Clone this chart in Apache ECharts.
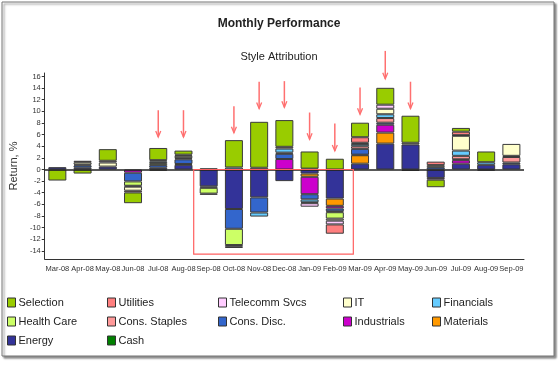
<!DOCTYPE html>
<html><head><meta charset="utf-8">
<script src="https://cdn.jsdelivr.net/npm/echarts@6/dist/echarts.min.js"></script>
<style>html,body{margin:0;padding:0;background:#fff}#c{width:558px;height:376px}</style>
</head><body><div id="c"></div>
<script>
var months = ['Mar-08','Apr-08','May-08','Jun-08','Jul-08','Aug-08','Sep-08','Oct-08','Nov-08','Dec-08','Jan-09','Feb-09','Mar-09','Apr-09','May-09','Jun-09','Jul-09','Aug-09','Sep-09'];
var yTicks = [-14,-12,-10,-8,-6,-4,-2,0,2,4,6,8,10,12,14,16];

var energy      = [0.4, 0.3, 0.5, null, 0.3, 0.8, -2.9, -6.8, -4.8, -2.0, -0.7, -5.0, 1.0, 4.45, 4.3, -1.45, 1.0, 0.8, 0.9];
var materials   = [null, null, null, null, -0.2, null, null, null, null, null, -0.55, -1.25, 1.45, 1.9, null, null, null, null, null];
var industrials = [null, null, null, -0.55, null, 0.15, null, null, null, 1.8, -3.0, -0.45, 0.1, 1.35, null, -0.3, 0.6, null, null];
var consDisc    = [null, 0.4, null, -1.5, 0.45, 0.8, -0.25, -3.4, -2.6, 0.9, -0.9, -0.5, 1.0, 0.35, -0.25, 0.4, 0.15, -0.2, 0.3];
var consStaples = [null, null, null, null, null, null, null, null, null, 0.2, 0.15, -0.15, 0.45, 0.8, null, null, 0.6, null, 0.95];
var healthCare  = [null, null, null, -0.75, 0.35, null, -1.0, -2.8, null, null, null, -1.1, null, null, null, null, null, null, null];
var financials  = [null, 0.15, null, -0.15, 0.3, 0.2, null, 0.35, -0.7, 0.7, -0.5, null, 0.4, 0.65, null, null, 0.9, 0.45, 0.2];
var it          = [null, 0.4, 0.7, -0.7, 0.2, 0.4, 0.2, null, null, null, -0.15, -0.35, 0.2, 0.95, 0.3, 0.35, 2.55, null, 2.05];
var telecomm    = [null, null, 0.3, null, null, 0.2, null, -0.3, 0.3, 0.3, -0.6, -0.65, null, 0.7, null, null, 0.1, null, null];
var utilities   = [null, 0.25, null, -0.3, null, null, -0.2, -0.2, null, null, null, -1.6, 0.95, null, null, 0.6, 0.6, null, null];
var selection   = [-1.9, -0.7, 2.0, -1.85, 2.1, 0.7, null, 4.7, 7.9, 4.6, 2.95, 1.85, 2.5, 2.9, 4.65, -1.3, 0.65, 1.85, null];
var cash        = [null, null, null, null, null, null, null, null, null, null, null, null, null, null, null, null, null, null, null];

var arrowMonths = ['Jul-08','Aug-08','Oct-08','Nov-08','Dec-08','Jan-09','Feb-09','Mar-09','Apr-09','May-09'];
var arrowFrom   = [10.2, 10.2, 10.9, 15.1, 15.2, 9.8, 7.9, 14.1, 20.4, 15.1];
var arrowTo     = [5.6, 5.6, 6.3, 10.5, 10.7, 5.2, 3.2, 9.5, 15.6, 10.5];
var boxFrom = 'Sep-08', boxTo = 'Feb-09', boxBottom = -14.55;

var FONT = "'Liberation Sans Narrow','Arial Narrow','Liberation Sans',Arial,sans-serif";
var seriesDefs = [
  ['Energy', energy, '#333399'],
  ['Materials', materials, '#FF9900'],
  ['Industrials', industrials, '#CC00CC'],
  ['Cons. Disc.', consDisc, '#3366CC'],
  ['Cons. Staples', consStaples, '#FF9999'],
  ['Health Care', healthCare, '#CCFF66'],
  ['Financials', financials, '#66CCFF'],
  ['IT', it, '#FFFFCC'],
  ['Telecomm Svcs', telecomm, '#FFCCFF'],
  ['Utilities', utilities, '#FF7F7F'],
  ['Selection', selection, '#99CC00'],
  ['Cash', cash, '#008000']
];
var series = seriesDefs.map(function (d, i) {
  var s = {
    name: d[0], type: 'bar', stack: 'all', data: d[1], barWidth: 18,
    itemStyle: { color: d[2], borderColor: '#3a3a3a', borderWidth: 1 },
    emphasis: { disabled: true }
  };
  if (i === 0) {
    s.markLine = { silent: true, symbol: ['none', 'none'], label: { show: false },
      lineStyle: { color: '#222', width: 1.5, type: 'solid' }, data: [{ yAxis: 0 }] };
  }
  return s;
});

function legendCol(names, left) {
  return {
    data: names, left: left, top: 296, orient: 'vertical', padding: 0,
    itemWidth: 8, itemHeight: 9, itemGap: 6, icon: 'rect', selectedMode: false,
    itemStyle: { borderColor: '#333', borderWidth: 1 },
    textStyle: { fontFamily: FONT, fontSize: 11, color: '#222', lineHeight: 13, padding: [0, 0, 0, -2] }
  };
}

var chart = echarts.init(document.getElementById('c'), null, { renderer: 'canvas' });
chart.setOption({
  animation: false,
  title: [
    { text: 'Monthly Performance', left: 'center', top: 13,
      textStyle: { fontFamily: FONT, fontSize: 12, fontWeight: 'bold', color: '#222' } },
    { text: 'Style Attribution', left: 'center', top: 46,
      textStyle: { fontFamily: FONT, fontSize: 11, fontWeight: 'normal', color: '#222' } }
  ],
  legend: [
    legendCol(['Selection', 'Health Care', 'Energy'], 7),
    legendCol(['Utilities', 'Cons. Staples', 'Cash'], 107),
    legendCol(['Telecomm Svcs', 'Cons. Disc.'], 218),
    legendCol(['IT', 'Industrials'], 343),
    legendCol(['Financials', 'Materials'], 432)
  ],
  grid: { left: 30, right: 34, top: 73, bottom: 117 },
  xAxis: {
    type: 'category', data: months,
    axisLine: { onZero: false, lineStyle: { color: '#333', width: 1 } },
    axisTick: { alignWithLabel: true, length: 4, lineStyle: { color: '#333' } },
    axisLabel: { interval: 0, fontFamily: FONT, fontSize: 7.5, color: '#333', margin: 6 }
  },
  yAxis: {
    type: 'value', min: -15.4, max: 16.6,
    name: 'Return, %', nameLocation: 'middle', nameGap: 19,
    nameTextStyle: { fontFamily: "'Liberation Sans',Arial,sans-serif", fontSize: 11, color: '#333' },
    axisLine: { show: true, lineStyle: { color: '#333' } },
    axisTick: { show: true, length: 3, customValues: yTicks, lineStyle: { color: '#333' } },
    axisLabel: { customValues: yTicks, fontFamily: FONT, fontSize: 7.5, color: '#333', margin: 4 },
    splitLine: { show: false }
  },
  series: series
});

var g = [];
g.push({ type: 'rect', z: -10, shape: { x: 2, y: 2, width: 552, height: 354 },
  style: { fill: '#fff', stroke: '#777', lineWidth: 1, shadowBlur: 2, shadowOffsetX: 2, shadowOffsetY: 2, shadowColor: 'rgba(0,0,0,0.45)' } });
arrowMonths.forEach(function (m, i) {
  var idx = months.indexOf(m);
  var p0 = chart.convertToPixel({ seriesIndex: 0 }, [idx, arrowFrom[i]]);
  var p1 = chart.convertToPixel({ seriesIndex: 0 }, [idx, arrowTo[i]]);
  g.push({ type: 'line', z: 100, shape: { x1: p0[0], y1: p0[1], x2: p1[0], y2: p1[1] },
    style: { stroke: '#FF7070', lineWidth: 1.5 } });
  g.push({ type: 'polyline', z: 100, shape: { points: [[p1[0] - 2.5, p1[1] - 6], [p1[0], p1[1]], [p1[0] + 2.5, p1[1] - 6]] },
    style: { stroke: '#FF7070', lineWidth: 1.3, fill: null } });
});
var b0 = chart.convertToPixel({ seriesIndex: 0 }, [months.indexOf(boxFrom), 0]);
var b1 = chart.convertToPixel({ seriesIndex: 0 }, [months.indexOf(boxTo), boxBottom]);
g.push({ type: 'rect', z: 100, shape: { x: b0[0] - 15, y: b0[1], width: (b1[0] + 18.5) - (b0[0] - 15), height: b1[1] - b0[1] },
  style: { fill: null, stroke: '#FF6060', lineWidth: 1.2 } });
chart.setOption({ graphic: g });
</script>
</body></html>
